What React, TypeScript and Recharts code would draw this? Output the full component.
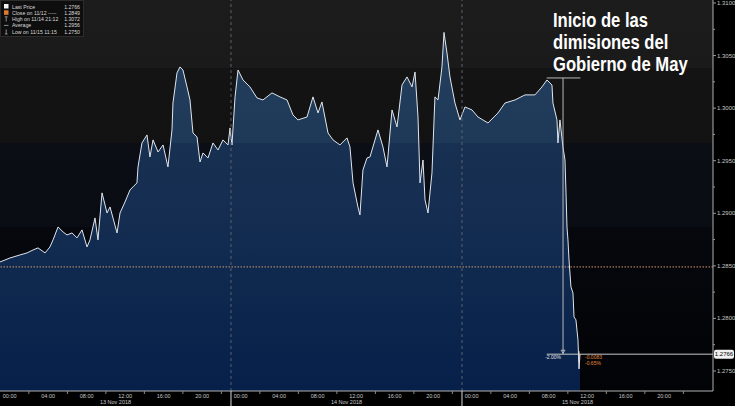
import React from "react"
import { ComposedChart, Area, XAxis, YAxis, ReferenceLine, ReferenceDot } from "recharts"

// hours since 00:00 of 13 Nov (chart time), GBP/USD price
const hours = [
    0, 1.04, 2.08, 2.81, 3.43, 3.95, 4.68, 5.19, 5.51, 6.03,
    6.55, 6.96, 7.48, 8.0, 8.52, 9.04, 9.35, 9.87, 10.18, 10.6,
    11.12, 11.43, 12.16, 12.47, 12.99, 13.51, 13.82, 14.23, 14.34, 14.75,
    15.27, 15.58, 15.9, 16.42, 16.94, 17.45, 17.87, 17.97, 18.39, 18.7,
    19.01, 19.43, 19.74, 20.05, 20.47, 20.78, 21.09, 21.61, 22.13, 22.65,
    23.17, 23.69, 23.9, 24.1, 24.42, 24.73, 25.25, 25.97, 26.7, 27.32,
    28.26, 29.09, 29.82, 30.44, 30.96, 31.9, 32.52, 33.04, 33.45, 34.08,
    34.6, 35.32, 36.05, 36.36, 36.68, 37.19, 37.4, 37.71, 38.13, 38.44,
    39.27, 39.79, 40.21, 40.73, 41.25, 41.77, 42.29, 42.81, 43.12, 43.43,
    43.64, 43.95, 44.16, 44.47, 44.88, 45.19, 45.51, 45.92, 46.13, 46.44,
    46.75, 47.27, 47.79, 48.31, 49.04, 49.66, 50.7, 51.74, 52.47, 53.51,
    54.55, 55.58, 56.31, 56.83, 57.35, 57.45, 57.87, 57.97, 58.18, 58.49,
    58.7, 58.81, 58.91, 59.01, 59.12, 59.32, 59.53, 59.64, 59.84, 60.05,
    60.16, 60.26
]
const prices = [
    1.28537, 1.28575, 1.28604, 1.28623, 1.28651, 1.28671, 1.28623, 1.2868, 1.28747, 1.2887,
    1.28823, 1.28794, 1.28813, 1.28766, 1.28842, 1.2868, 1.28747, 1.28956, 1.28747, 1.29194,
    1.29003, 1.2906, 1.28813, 1.29003, 1.29108, 1.29222, 1.29251, 1.29289, 1.29441, 1.29669,
    1.29745, 1.29536, 1.29698, 1.29583, 1.2965, 1.29441, 1.29793, 1.30049, 1.30335, 1.30392,
    1.30363, 1.30202, 1.30078, 1.29764, 1.29726, 1.29488, 1.29574, 1.29526, 1.29669, 1.29602,
    1.29698, 1.2965, 1.29812, 1.2965, 1.30107, 1.30363, 1.30268, 1.30202, 1.30097, 1.30078,
    1.30145, 1.30107, 1.30078, 1.29935, 1.29888, 1.29916, 1.30107, 1.29954, 1.30059, 1.29764,
    1.29698, 1.2965, 1.29717, 1.29631, 1.29289, 1.2906, 1.28984, 1.29412, 1.29526, 1.29536,
    1.29793, 1.29631, 1.29441, 1.29983, 1.29821, 1.30221, 1.30297, 1.30202, 1.30344, 1.29916,
    1.29289, 1.29507, 1.29127, 1.29003, 1.29384, 1.30107, 1.30078, 1.30392, 1.3072, 1.30525,
    1.30297, 1.30049, 1.29888, 1.30011, 1.29983, 1.29916, 1.29859, 1.29954, 1.30049, 1.30078,
    1.30126, 1.30126, 1.30202, 1.30268, 1.3022, 1.30049, 1.29888, 1.29669, 1.29888, 1.29631,
    1.29507, 1.29194, 1.2887, 1.28747, 1.28556, 1.283, 1.28243, 1.28014, 1.27986, 1.27796,
    1.2752, 1.2766
]

const labelHours = [1, 5, 9, 13, 17, 21, 25, 29, 33, 37, 41, 45, 49, 53, 57, 61, 65, 69]
const timeLabels = ["00:00", "04:00", "08:00", "12:00", "16:00", "20:00"]
const minorHours = [3, 7, 11, 15, 19, 23, 27, 31, 35, 39, 43, 47, 51, 55, 59, 63, 67, 71]
const dayHours = [24, 48]
const dateHours = [12, 36, 60]
const dateLabels = ["13 Nov 2018", "14 Nov 2018", "15 Nov 2018"]

const yMajor = [1.275, 1.28, 1.285, 1.29, 1.295, 1.3, 1.305, 1.31]
const yMinor = [1.2775, 1.2825, 1.2875, 1.2925, 1.2975, 1.3025, 1.3075]

const lastPrice = 1.2766
const prevClose = 1.2849
const eventPrice = 1.30287
const eventHour = 58.5

const legendRows = [
    { label: "Last Price", value: "1.2766" },
    { label: "Close on 11/12 -----", value: "1.2849" },
    { label: "High on 11/14 21:12", value: "1.3072" },
    { label: "Average", value: "1.2956" },
    { label: "Low on 11/15 11:15", value: "1.2750" }
]
const noteLines = ["Inicio de las", "dimisiones del", "Gobierno de May"]

const data = hours.map((h, i) => ({ h, p: prices[i] }))
const xTicks = [...labelHours, ...minorHours, ...dayHours, ...dateHours].sort((a, b) => a - b)
const yTicks = [...yMajor, ...yMinor, lastPrice].sort((a, b) => a - b)

const font = "'Liberation Sans', Arial, sans-serif"

function XTick(props: any) {
    const { x, y, payload } = props
    const h = payload.value
    if (dayHours.includes(h)) {
        return <line x1={x} x2={x} y1={y} y2={y + 15} stroke="#d8d8d8" />
    }
    const di = dateHours.indexOf(h)
    if (di >= 0) {
        return <text x={x} y={y + 13} textAnchor="middle" fontSize={5.5} fill="#c8c8c8" fontFamily={font}>{dateLabels[di]}</text>
    }
    if (minorHours.includes(h)) {
        return <line x1={x} x2={x} y1={y} y2={y + 3} stroke="#8a8a8a" />
    }
    const t = timeLabels[((h - 1) / 4) % 6]
    return <text x={x} y={y + 6.5} textAnchor="middle" fontSize={5.5} fill="#c8c8c8" fontFamily={font}>{t}</text>
}

function YTick(props: any) {
    const { x, y, payload } = props
    const v = payload.value
    if (Math.abs(v - lastPrice) < 1e-7) {
        return (
            <g>
                <rect x={x + 1} y={y - 4.5} width={20} height={9} rx={2} fill="#f0f0f0" />
                <text x={x + 11} y={y + 2} textAnchor="middle" fontSize={6} fill="#000" fontFamily={font}>1.2766</text>
            </g>
        )
    }
    const major = yMajor.some(m => Math.abs(m - v) < 1e-7)
    return (
        <g>
            <line x1={x} x2={x + (major ? 3 : 2)} y1={y} y2={y} stroke="#9a9a9a" />
            {major && <text x={x + 4} y={y + 2} fontSize={6} fill="#c8c8c8" fontFamily={font}>{v.toFixed(4)}</text>}
        </g>
    )
}

export default function App() {
    return (
        <div style={{ position: "absolute", left: 0, top: 0, width: 735, height: 406, background: "#000", overflow: "hidden" }}>
            <style>{"body{margin:0;background:#000}"}</style>
            <div
                style={{
                    position: "absolute", left: 0, top: 0, width: 713, height: 391,
                    background: "linear-gradient(to bottom, #1c1c1c 0px, #1a1a1a 68px, #141414 68px, #121212 143px, #0c0e15 143px, #0a0c13 227px, #06080e 227px, #020306 391px)"
                }}
            />
            <ComposedChart width={735} height={406} data={data} margin={{ top: 0, right: 0, left: 0, bottom: 0 }} style={{ position: "absolute", left: 0, top: 0 }}>
                <defs>
                    <linearGradient id="areaFill" gradientUnits="userSpaceOnUse" x1="0" y1="0" x2="0" y2="391">
                        <stop offset="0" stopColor="#27435f" />
                        <stop offset="0.174" stopColor="#233e5c" />
                        <stop offset="0.366" stopColor="#1e3958" />
                        <stop offset="0.367" stopColor="#183152" />
                        <stop offset="0.58" stopColor="#132c50" />
                        <stop offset="1" stopColor="#06204a" />
                    </linearGradient>
                </defs>
                <XAxis
                    dataKey="h"
                    type="number"
                    domain={[0, 74.08]}
                    ticks={xTicks}
                    interval={0}
                    height={15}
                    tickSize={0}
                    tickMargin={0}
                    tickLine={false}
                    axisLine={{ stroke: "#b0b0b0" }}
                    tick={<XTick />}
                    allowDataOverflow
                />
                <YAxis
                    orientation="right"
                    type="number"
                    domain={[1.273098, 1.310285]}
                    ticks={yTicks}
                    interval={0}
                    width={22}
                    tickSize={0}
                    tickMargin={0}
                    tickLine={false}
                    axisLine={{ stroke: "#b0b0b0" }}
                    tick={<YTick />}
                    allowDataOverflow
                />
                <Area
                    dataKey="p"
                    type="linear"
                    stroke="#dfe6ee"
                    strokeWidth={1}
                    fill="url(#areaFill)"
                    fillOpacity={1}
                    dot={false}
                    activeDot={false}
                    isAnimationActive={false}
                />
                {dayHours.map(d => (
                    <ReferenceLine key={d} x={d} stroke="#5c6270" strokeDasharray="3 3" />
                ))}
                <ReferenceLine y={prevClose} stroke="#d39a70" strokeDasharray="1.5 1.5" />
                <ReferenceLine segment={[{ x: 56.8, y: lastPrice }, { x: 74.08, y: lastPrice }]} stroke="#c8c8c8" />
                <ReferenceLine segment={[{ x: eventHour, y: eventPrice }, { x: eventHour, y: lastPrice }]} stroke="#b8b8b8" />
                <ReferenceLine segment={[{ x: 56.8, y: eventPrice }, { x: 60.3, y: eventPrice }]} stroke="#b8b8b8" />
                <ReferenceDot
                    x={eventHour}
                    y={lastPrice}
                    r={0}
                    isFront
                    shape={(p: any) => (
                        <g>
                            <path d={`M${p.cx - 2},${p.cy - 4} L${p.cx + 2},${p.cy - 4} L${p.cx},${p.cy - 1} Z`} fill="none" stroke="#ccc" strokeWidth={0.8} />
                            <text x={p.cx - 2} y={p.cy + 4.5} textAnchor="end" fontSize={5} fill="#e0e0e0" fontFamily={font}>-2.00%</text>
                        </g>
                    )}
                />
                <ReferenceDot
                    x={60.16}
                    y={lastPrice}
                    r={0}
                    isFront
                    shape={(p: any) => (
                        <g>
                            <line x1={p.cx} x2={p.cx} y1={p.cy - 3} y2={p.cy + 8} stroke="#ddd" />
                            <text x={p.cx + 6} y={p.cy + 5} fontSize={5} fill="#e08a3c" fontFamily={font}>-0.0083</text>
                            <text x={p.cx + 6} y={p.cy + 11} fontSize={5} fill="#e08a3c" fontFamily={font}>-0.65%</text>
                        </g>
                    )}
                />
            </ComposedChart>
            <svg width={735} height={406} style={{ position: "absolute", left: 0, top: 0, pointerEvents: "none" }}>
                <rect x={0.5} y={0.5} width={83} height={36} fill="#0e0e0e" stroke="#2c2c2c" />
                <rect x={4} y={4} width={4.5} height={4.5} fill="#f4f4f4" />
                <rect x={4} y={10.3} width={4.5} height={4.5} fill="#e07a30" />
                <line x1={6.2} x2={6.2} y1={16.8} y2={21.5} stroke="#aaa" strokeWidth={0.8} />
                <line x1={4.8} x2={7.6} y1={16.8} y2={16.8} stroke="#aaa" strokeWidth={0.8} />
                <line x1={4} x2={8.5} y1={25.4} y2={25.4} stroke="#aaa" strokeWidth={0.8} />
                <line x1={6.2} x2={6.2} y1={29.4} y2={34} stroke="#aaa" strokeWidth={0.8} />
                <line x1={4.8} x2={7.6} y1={34} y2={34} stroke="#aaa" strokeWidth={0.8} />
                {legendRows.map((r, i) => (
                    <g key={r.label}>
                        <text x={12} y={8.5 + i * 6.3} fontSize={5.2} fill="#d8d8d8" fontFamily={font}>{r.label}</text>
                        <text x={80} y={8.5 + i * 6.3} fontSize={5.2} fill="#d8d8d8" textAnchor="end" fontFamily={font}>{r.value}</text>
                    </g>
                ))}
                <g transform="translate(553,0) scale(0.81,1)">
                    {noteLines.map((t, i) => (
                        <text
                            key={t}
                            x={0}
                            y={27 + i * 22}
                            fontSize={20.5}
                            fontWeight="bold"
                            fill="#ffffff"
                            fontFamily={font}
                        >
                            {t}
                        </text>
                    ))}
                </g>
            </svg>
        </div>
    )
}
